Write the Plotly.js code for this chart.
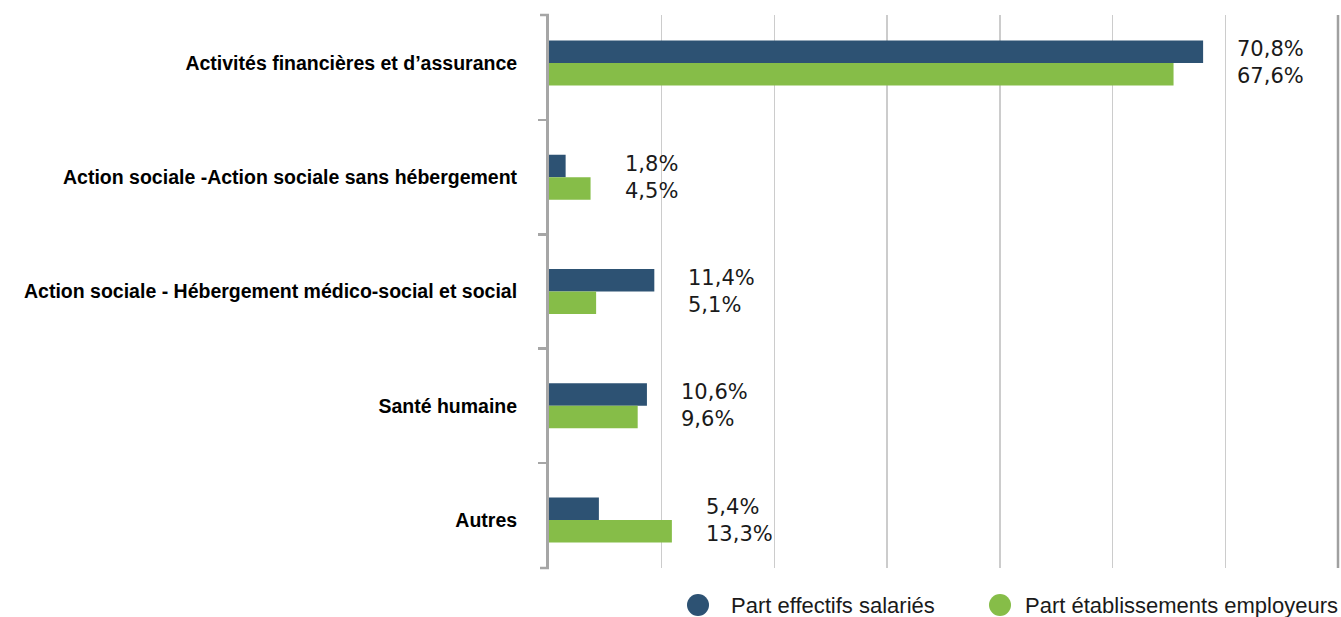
<!DOCTYPE html>
<html>
<head>
<meta charset="utf-8">
<script src="https://cdn.plot.ly/plotly-3.0.1.min.js"></script>
<style>html,body{margin:0;padding:0;background:#fff;}#chart{width:1341px;height:617px;}</style>
</head>
<body>
<div id="chart"></div>
<script>
const categories = [
  "Activités financières et d’assurance",
  "Action sociale -Action sociale sans hébergement",
  "Action sociale - Hébergement médico-social et social",
  "Santé humaine",
  "Autres"
];
const seriesNames = ["Part effectifs salariés", "Part établissements employeurs"];
const effectifs = [70.8, 1.8, 11.4, 10.6, 5.4];
const etablissements = [67.6, 4.5, 5.1, 9.6, 13.3];
const colors = ["#2d5273", "#86bd48"];

const fmt = v => v.toFixed(1).replace('.', ',') + '%';
const dtick = 12.2;
const xmax = dtick * 7;

const traces = [
  {type: 'bar', orientation: 'h', name: seriesNames[0], y: categories, x: effectifs,
   marker: {color: colors[0]}, showlegend: false, hoverinfo: 'x'},
  {type: 'bar', orientation: 'h', name: seriesNames[1], y: categories, x: etablissements,
   marker: {color: colors[1]}, showlegend: false, hoverinfo: 'x'}
];

const annotations = categories.map((c, i) => ({
  x: Math.max(effectifs[i], etablissements[i]), y: c, xref: 'x', yref: 'y',
  text: fmt(effectifs[i]) + '<br>' + fmt(etablissements[i]),
  showarrow: false, xanchor: 'left', yanchor: 'middle', align: 'left', xshift: 32,
  font: {family: 'DejaVu Sans, sans-serif', size: 21, color: '#1a1a1a'}
}));

// plot area in pixels
const PL = 549, PR = 1338, PT = 15, PB = 568;
const px = x => (x - PL) / (PR - PL);
const py = y => (PB - y) / (PB - PT);

// manual legend (circle markers)
const legendItems = [{cx: 698, tx: 729}, {cx: 1000, tx: 1023}];
const shapes = [
  {type: 'line', xref: 'paper', yref: 'paper', x0: 1, x1: 1, y0: 0, y1: 1,
   line: {color: '#a0a0a0', width: 2.5}},
  // end ticks of the category axis
  {type: 'line', xref: 'paper', yref: 'paper', x0: px(PL - 9), x1: 0, y0: 1, y1: 1,
   line: {color: '#a6a6a6', width: 2.5}},
  {type: 'line', xref: 'paper', yref: 'paper', x0: px(PL - 9), x1: 0, y0: 0, y1: 0,
   line: {color: '#a6a6a6', width: 2.5}}
];
legendItems.forEach((it, i) => {
  shapes.push({type: 'circle', xref: 'paper', yref: 'paper',
    xsizemode: 'pixel', ysizemode: 'pixel',
    xanchor: px(it.cx), yanchor: py(605),
    x0: -11, x1: 11, y0: -11, y1: 11,
    fillcolor: colors[i], line: {width: 0}});
  annotations.push({xref: 'paper', yref: 'paper', x: px(it.tx), y: py(605),
    xanchor: 'left', yanchor: 'middle', showarrow: false, text: seriesNames[i],
    font: {family: 'Liberation Sans, Arial, sans-serif', size: 22, color: '#1a1a1a'}});
});

const layout = {
  width: 1341, height: 617,
  margin: {l: PL, r: 1341 - PR, t: PT, b: 617 - PB},
  paper_bgcolor: '#fff', plot_bgcolor: '#fff',
  barmode: 'group', bargap: 0.606, bargroupgap: 0,
  showlegend: false,
  xaxis: {range: [0, xmax], dtick: dtick, tick0: 0, showticklabels: false,
    showgrid: true, gridcolor: '#cccccc', gridwidth: 1.5, zeroline: false,
    showline: false, fixedrange: true},
  yaxis: {type: 'category', range: [4.42, -0.42], showline: true, linecolor: '#a6a6a6',
    linewidth: 3, ticks: 'outside', ticklen: 8, tickwidth: 2.5, tickcolor: '#a6a6a6',
    tickson: 'boundaries', showgrid: false, zeroline: false, ticklabelstandoff: 25,
    tickfont: {family: 'Liberation Sans, Arial, sans-serif', size: 19.5, color: '#000', weight: 'bold'},
    fixedrange: true},
  annotations: annotations,
  shapes: shapes
};

Plotly.newPlot('chart', traces, layout, {displayModeBar: false, staticPlot: true});
</script>
</body>
</html>
